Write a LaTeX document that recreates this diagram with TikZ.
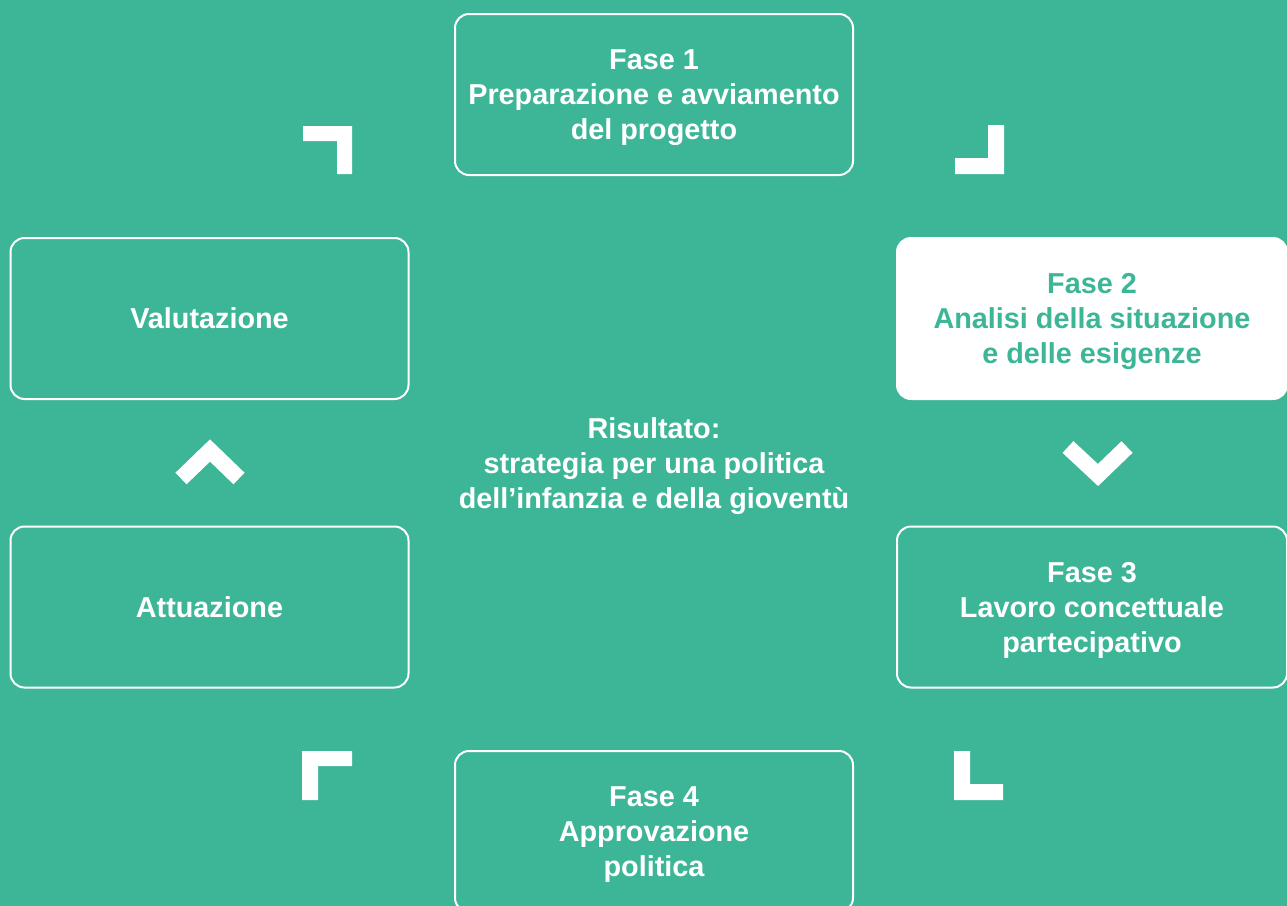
\documentclass[tikz,border=0pt]{standalone}
\usepackage{fontspec}
\setmainfont{Liberation Sans}
\usepackage{xcolor}
\usepackage{tikz}
\usetikzlibrary{positioning}

\definecolor{cycleteal}{HTML}{3DB597}

\begin{document}
\begin{tikzpicture}[x=0.5pt, y=-0.5pt]
  \tikzstyle{phase}=[rounded corners=7pt, draw=white, line width=1pt, minimum width=199pt,
  minimum height=80.5pt, align=center, text=white, text depth=0pt,
  font=\fontsize{14.4}{17.5}\selectfont\bfseries]
  \tikzstyle{active}=[phase, fill=white, text=cycleteal, minimum width=195pt]
  \tikzstyle{cornermark}=[fill=white]
  \tikzstyle{chevron}=[draw=white, line width=8pt, line join=miter]

  \useasboundingbox (0,0) rectangle (1287,906);
  \fill[cycleteal] (0,0) rectangle (1287,906);

  \node (fase1) at (654,94.5) [phase] {Fase 1\\Preparazione e avviamento\\del progetto};
  \node (fase2) at (1092,318.5) [active] {Fase 2\\Analisi della situazione\\e delle esigenze};
  \node (fase3) at (1092,607) [phase, minimum width=195pt] {Fase 3\\Lavoro concettuale\\partecipativo};
  \node (fase4) at (654,831.5) [phase] {Fase 4\\Approvazione\\politica};
  \node (attua) at (209.5,607) [phase] {Attuazione};
  \node (valut) at (209.5,318.5) [phase] {Valutazione};

  \node (result) at (654,466) [align=center, text=white,
  font=\fontsize{14.4}{17.5}\selectfont\bfseries]
  {Risultato:\\strategia per una politica\\dell’infanzia e della gioventù};

  % corner marks
  \fill[cornermark] (303,126) -- (352,126) -- (352,174) -- (337,174) -- (337,141) -- (303,141) -- cycle;
  \fill[cornermark] (988,125) -- (1004,125) -- (1004,174) -- (955,174) -- (955,158) -- (988,158) -- cycle;
  \fill[cornermark] (302,751) -- (352,751) -- (352,766) -- (318,766) -- (318,800) -- (302,800) -- cycle;
  \fill[cornermark] (954,751) -- (970,751) -- (970,784) -- (1003,784) -- (1003,800) -- (954,800) -- cycle;

  % chevrons
  \draw[chevron] (181,478.5) -- (210,450.5) -- (239,478.5);
  \draw[chevron] (1068,447) -- (1098,475) -- (1127,447);

\end{tikzpicture}
\end{document}
